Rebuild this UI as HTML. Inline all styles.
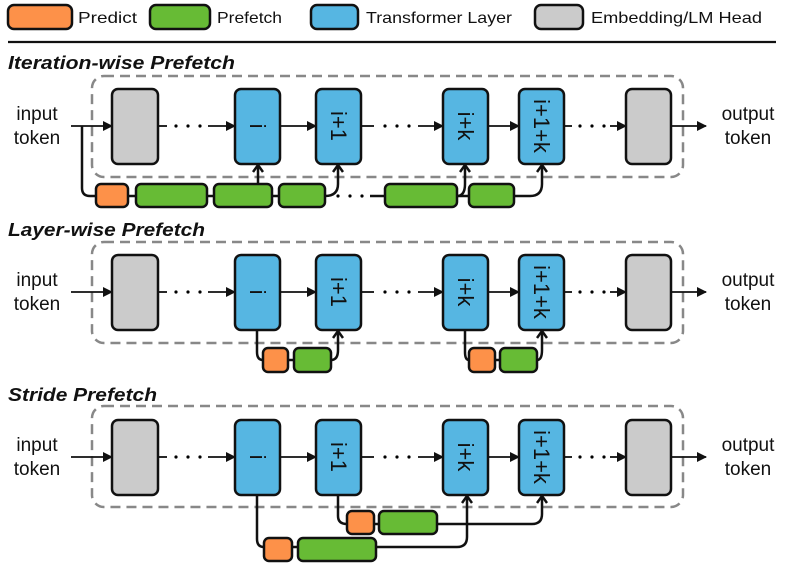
<!DOCTYPE html>
<html><head><meta charset="utf-8"><style>
html,body{margin:0;padding:0;background:#fff;}
svg{display:block;font-family:"Liberation Sans",sans-serif;}
.b{stroke:#111;stroke-width:2.5;}
.l{stroke:#111;stroke-width:1.8;fill:none;}
.p{stroke:#111;stroke-width:2.5;fill:none;}
.d{fill:none;stroke:#888;stroke-width:2.5;stroke-dasharray:10 6;}
.t{font-size:19px;fill:#111;text-anchor:middle;}
.lab{font-size:22px;fill:#111;text-anchor:middle;dominant-baseline:central;}
.h{font-size:18px;font-weight:bold;font-style:italic;fill:#111;}
.lg{font-size:16px;fill:#111;}
</style></head><body>
<svg width="789" height="564" viewBox="0 0 789 564" xmlns="http://www.w3.org/2000/svg">
<defs>
<marker id="a" markerWidth="10" markerHeight="10" refX="9" refY="5" orient="auto" markerUnits="userSpaceOnUse"><path d="M0,0 L10,5 L0,10 z" fill="#111"/></marker>
<marker id="c" markerWidth="12" markerHeight="12" refX="6" refY="2" orient="0" markerUnits="userSpaceOnUse"><path d="M1,9 L6,2 L11,9" fill="none" stroke="#111" stroke-width="2.5"/></marker>
</defs>
<rect x="8" y="5" width="64" height="24" rx="6" fill="#fd9149" class="b"/>
<text x="78" y="23" class="lg" textLength="59" lengthAdjust="spacingAndGlyphs">Predict</text>
<rect x="150" y="5" width="60" height="24" rx="6" fill="#67bb35" class="b"/>
<text x="217" y="23" class="lg" textLength="65" lengthAdjust="spacingAndGlyphs">Prefetch</text>
<rect x="311" y="5" width="47" height="24" rx="6" fill="#56b6e2" class="b"/>
<text x="366" y="23" class="lg" textLength="146" lengthAdjust="spacingAndGlyphs">Transformer Layer</text>
<rect x="535" y="5" width="48" height="24" rx="6" fill="#cbcbcb" class="b"/>
<text x="591" y="23" class="lg" textLength="171" lengthAdjust="spacingAndGlyphs">Embedding/LM Head</text>
<line x1="8" y1="42" x2="776" y2="42" stroke="#111" stroke-width="2.2"/>

<text x="8" y="69" class="h" textLength="227" lengthAdjust="spacingAndGlyphs">Iteration-wise Prefetch</text>
<text x="8" y="236" class="h" textLength="197" lengthAdjust="spacingAndGlyphs">Layer-wise Prefetch</text>
<text x="8" y="401" class="h" textLength="149" lengthAdjust="spacingAndGlyphs">Stride Prefetch</text>

<g>
<rect x="92" y="76" width="591" height="101" rx="12" class="d"/>
<text x="37" y="120" class="t">input</text><text x="37" y="144" class="t">token</text>
<line x1="71" y1="126" x2="112" y2="126" class="l" marker-end="url(#a)"/>
<rect x="112" y="89" width="46" height="75" rx="6" fill="#cbcbcb" class="b"/>
<line x1="158" y1="126" x2="167" y2="126" class="l"/><circle cx="176" cy="126" r="1.6"/><circle cx="188" cy="126" r="1.6"/><circle cx="200" cy="126" r="1.6"/>
<line x1="208" y1="126" x2="235" y2="126" class="l" marker-end="url(#a)"/>
<rect x="235" y="89" width="45" height="75" rx="6" fill="#56b6e2" class="b"/>
<text class="lab" transform="translate(257.5,126) rotate(90)">i</text>
<line x1="280" y1="126" x2="316" y2="126" class="l" marker-end="url(#a)"/>
<rect x="316" y="89" width="45" height="75" rx="6" fill="#56b6e2" class="b"/>
<text class="lab" transform="translate(338.5,126) rotate(90)">i+1</text>
<line x1="361" y1="126" x2="374" y2="126" class="l"/><circle cx="385" cy="126" r="1.6"/><circle cx="397" cy="126" r="1.6"/><circle cx="409" cy="126" r="1.6"/>
<line x1="418" y1="126" x2="443" y2="126" class="l" marker-end="url(#a)"/>
<rect x="443" y="89" width="45" height="75" rx="6" fill="#56b6e2" class="b"/>
<text class="lab" transform="translate(465.5,126) rotate(90)">i+k</text>
<line x1="488" y1="126" x2="519" y2="126" class="l" marker-end="url(#a)"/>
<rect x="519" y="89" width="45" height="75" rx="6" fill="#56b6e2" class="b"/>
<text class="lab" transform="translate(541.5,126) rotate(90)">i+1+k</text>
<line x1="564" y1="126" x2="572" y2="126" class="l"/><circle cx="580" cy="126" r="1.6"/><circle cx="592" cy="126" r="1.6"/><circle cx="604" cy="126" r="1.6"/>
<line x1="610" y1="126" x2="626" y2="126" class="l" marker-end="url(#a)"/>
<rect x="626" y="89" width="45" height="75" rx="6" fill="#cbcbcb" class="b"/>
<line x1="671" y1="126" x2="706" y2="126" class="l" marker-end="url(#a)"/>
<text x="748" y="120" class="t">output</text><text x="748" y="144" class="t">token</text>
</g>
<path d="M82,126 V188 Q82,196 90,196 H96" class="p"/>
<line x1="128" y1="196" x2="325" y2="196" class="p"/>
<line x1="457" y1="196" x2="469" y2="196" class="p"/>
<circle cx="338" cy="196" r="1.6"/><circle cx="350" cy="196" r="1.6"/><circle cx="362" cy="196" r="1.6"/>
<line x1="370" y1="196" x2="385" y2="196" class="p"/>
<path d="M258,184 V165" class="p" marker-end="url(#c)"/>
<path d="M325,196 Q338,196 338,184 V165" class="p" marker-end="url(#c)"/>
<path d="M457,196 Q465,196 465,184 V165" class="p" marker-end="url(#c)"/>
<path d="M514,196 H530 Q542,196 542,184 V165" class="p" marker-end="url(#c)"/>
<rect x="96" y="184" width="32" height="23" rx="5" fill="#fd9149" class="b"/>
<rect x="136" y="184" width="71" height="23" rx="5" fill="#67bb35" class="b"/>
<rect x="214" y="184" width="58" height="23" rx="5" fill="#67bb35" class="b"/>
<rect x="279" y="184" width="46" height="23" rx="5" fill="#67bb35" class="b"/>
<rect x="385" y="184" width="72" height="23" rx="5" fill="#67bb35" class="b"/>
<rect x="469" y="184" width="45" height="23" rx="5" fill="#67bb35" class="b"/>

<g transform="translate(0,166)">
<rect x="92" y="76" width="591" height="101" rx="12" class="d"/>
<text x="37" y="120" class="t">input</text><text x="37" y="144" class="t">token</text>
<line x1="71" y1="126" x2="112" y2="126" class="l" marker-end="url(#a)"/>
<rect x="112" y="89" width="46" height="75" rx="6" fill="#cbcbcb" class="b"/>
<line x1="158" y1="126" x2="167" y2="126" class="l"/><circle cx="176" cy="126" r="1.6"/><circle cx="188" cy="126" r="1.6"/><circle cx="200" cy="126" r="1.6"/>
<line x1="208" y1="126" x2="235" y2="126" class="l" marker-end="url(#a)"/>
<rect x="235" y="89" width="45" height="75" rx="6" fill="#56b6e2" class="b"/>
<text class="lab" transform="translate(257.5,126) rotate(90)">i</text>
<line x1="280" y1="126" x2="316" y2="126" class="l" marker-end="url(#a)"/>
<rect x="316" y="89" width="45" height="75" rx="6" fill="#56b6e2" class="b"/>
<text class="lab" transform="translate(338.5,126) rotate(90)">i+1</text>
<line x1="361" y1="126" x2="374" y2="126" class="l"/><circle cx="385" cy="126" r="1.6"/><circle cx="397" cy="126" r="1.6"/><circle cx="409" cy="126" r="1.6"/>
<line x1="418" y1="126" x2="443" y2="126" class="l" marker-end="url(#a)"/>
<rect x="443" y="89" width="45" height="75" rx="6" fill="#56b6e2" class="b"/>
<text class="lab" transform="translate(465.5,126) rotate(90)">i+k</text>
<line x1="488" y1="126" x2="519" y2="126" class="l" marker-end="url(#a)"/>
<rect x="519" y="89" width="45" height="75" rx="6" fill="#56b6e2" class="b"/>
<text class="lab" transform="translate(541.5,126) rotate(90)">i+1+k</text>
<line x1="564" y1="126" x2="572" y2="126" class="l"/><circle cx="580" cy="126" r="1.6"/><circle cx="592" cy="126" r="1.6"/><circle cx="604" cy="126" r="1.6"/>
<line x1="610" y1="126" x2="626" y2="126" class="l" marker-end="url(#a)"/>
<rect x="626" y="89" width="45" height="75" rx="6" fill="#cbcbcb" class="b"/>
<line x1="671" y1="126" x2="706" y2="126" class="l" marker-end="url(#a)"/>
<text x="748" y="120" class="t">output</text><text x="748" y="144" class="t">token</text>
<path d="M257,164 V186 Q257,194 263,194" class="p"/>
<line x1="288" y1="194" x2="294" y2="194" class="p"/>
<path d="M331,194 Q338,194 338,184 V165" class="p" marker-end="url(#c)"/>
<rect x="263" y="182" width="25" height="24" rx="5" fill="#fd9149" class="b"/>
<rect x="294" y="182" width="37" height="24" rx="5" fill="#67bb35" class="b"/>
<path d="M465,164 V186 Q465,194 469,194" class="p"/>
<line x1="495" y1="194" x2="500" y2="194" class="p"/>
<path d="M537,194 Q542,194 542,184 V165" class="p" marker-end="url(#c)"/>
<rect x="469" y="182" width="26" height="24" rx="5" fill="#fd9149" class="b"/>
<rect x="500" y="182" width="37" height="24" rx="5" fill="#67bb35" class="b"/>
</g>

<g transform="translate(0,331)">
<rect x="92" y="75" width="591" height="101" rx="12" class="d"/>
<text x="37" y="120" class="t">input</text><text x="37" y="144" class="t">token</text>
<line x1="71" y1="126" x2="112" y2="126" class="l" marker-end="url(#a)"/>
<rect x="112" y="89" width="46" height="75" rx="6" fill="#cbcbcb" class="b"/>
<line x1="158" y1="126" x2="167" y2="126" class="l"/><circle cx="176" cy="126" r="1.6"/><circle cx="188" cy="126" r="1.6"/><circle cx="200" cy="126" r="1.6"/>
<line x1="208" y1="126" x2="235" y2="126" class="l" marker-end="url(#a)"/>
<rect x="235" y="89" width="45" height="75" rx="6" fill="#56b6e2" class="b"/>
<text class="lab" transform="translate(257.5,126) rotate(90)">i</text>
<line x1="280" y1="126" x2="316" y2="126" class="l" marker-end="url(#a)"/>
<rect x="316" y="89" width="45" height="75" rx="6" fill="#56b6e2" class="b"/>
<text class="lab" transform="translate(338.5,126) rotate(90)">i+1</text>
<line x1="361" y1="126" x2="374" y2="126" class="l"/><circle cx="385" cy="126" r="1.6"/><circle cx="397" cy="126" r="1.6"/><circle cx="409" cy="126" r="1.6"/>
<line x1="418" y1="126" x2="443" y2="126" class="l" marker-end="url(#a)"/>
<rect x="443" y="89" width="45" height="75" rx="6" fill="#56b6e2" class="b"/>
<text class="lab" transform="translate(465.5,126) rotate(90)">i+k</text>
<line x1="488" y1="126" x2="519" y2="126" class="l" marker-end="url(#a)"/>
<rect x="519" y="89" width="45" height="75" rx="6" fill="#56b6e2" class="b"/>
<text class="lab" transform="translate(541.5,126) rotate(90)">i+1+k</text>
<line x1="564" y1="126" x2="572" y2="126" class="l"/><circle cx="580" cy="126" r="1.6"/><circle cx="592" cy="126" r="1.6"/><circle cx="604" cy="126" r="1.6"/>
<line x1="610" y1="126" x2="626" y2="126" class="l" marker-end="url(#a)"/>
<rect x="626" y="89" width="45" height="75" rx="6" fill="#cbcbcb" class="b"/>
<line x1="671" y1="126" x2="706" y2="126" class="l" marker-end="url(#a)"/>
<text x="748" y="120" class="t">output</text><text x="748" y="144" class="t">token</text>
<path d="M338,164 V185 Q338,193 347,193" class="p"/>
<line x1="374" y1="193" x2="379" y2="193" class="p"/>
<path d="M437,193 H532 Q542,193 542,183 V165" class="p" marker-end="url(#c)"/>
<rect x="347" y="180" width="27" height="23" rx="5" fill="#fd9149" class="b"/>
<rect x="379" y="180" width="58" height="23" rx="5" fill="#67bb35" class="b"/>
<path d="M257,164 V208 Q257,216 264,216" class="p"/>
<line x1="292" y1="216" x2="298" y2="216" class="p"/>
<path d="M376,216 H457 Q467,216 467,206 V165" class="p" marker-end="url(#c)"/>
<rect x="264" y="207" width="28" height="23" rx="5" fill="#fd9149" class="b"/>
<rect x="298" y="207" width="78" height="23" rx="5" fill="#67bb35" class="b"/>
</g>
</svg>
</body></html>
